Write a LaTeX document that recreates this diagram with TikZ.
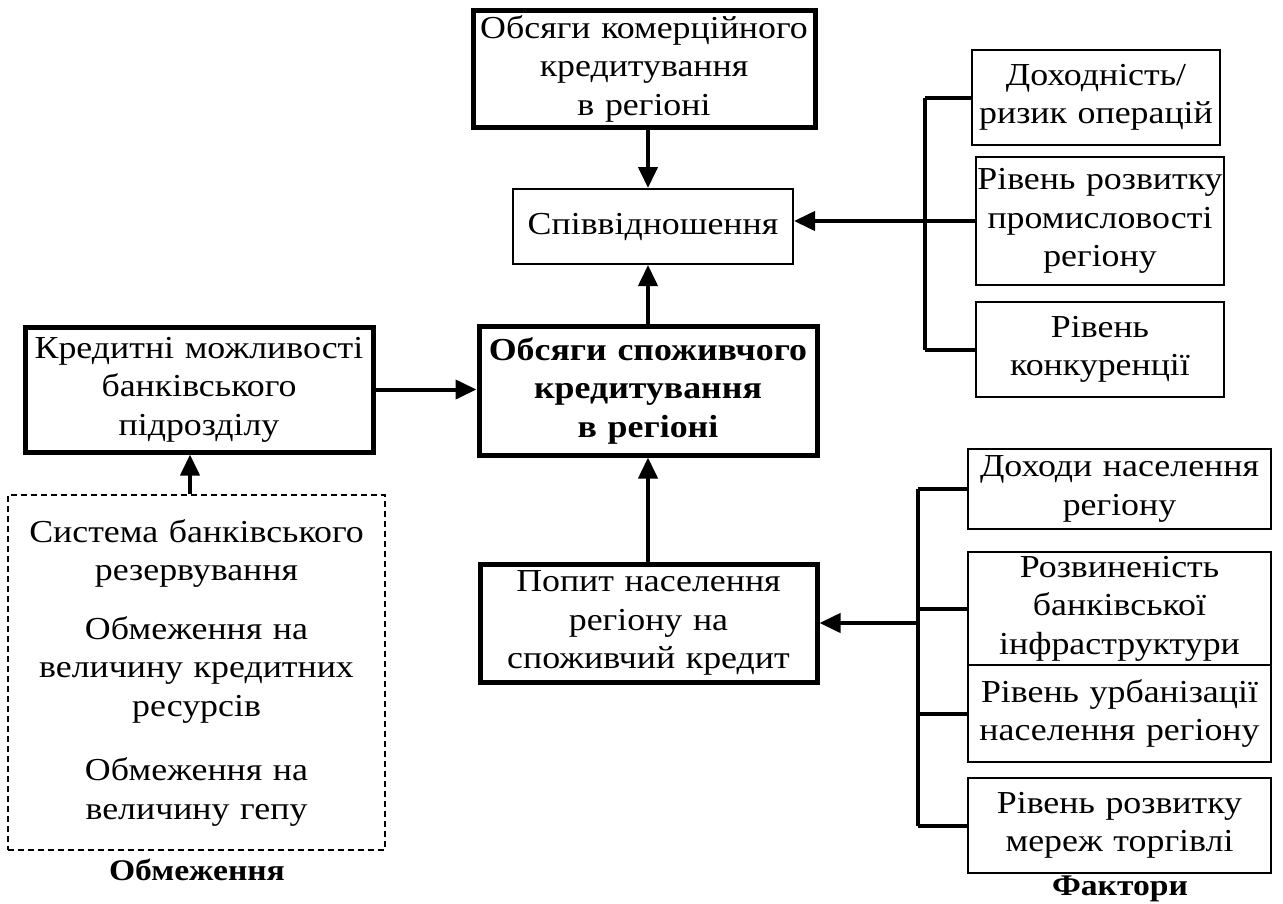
\documentclass[tikz,border=0pt]{standalone}
\usepackage{fontspec}
\setmainfont{Liberation Serif}[FakeStretch=1.12]
\usetikzlibrary{arrows.meta}
\begin{document}
\begin{tikzpicture}[x=1pt,y=-1pt,
  every node/.style={font=\fontsize{32}{38.5}\selectfont, align=center, inner sep=0pt},
  thickbox/.style={draw, line width=5pt},
  thinbox/.style={draw, line width=2pt},
  dashbox/.style={draw, line width=1.5pt, dash pattern=on 6pt off 4pt},
  conn/.style={line width=4pt},
  arr/.style={conn, -{Triangle[length=21pt,width=19pt]}},
  lbl/.style={font=\fontsize{30}{36}\selectfont\bfseries}
]
\useasboundingbox (0,0) rectangle (1283,903);
\fill[white] (0,0) rectangle (1283,903);

% central column
\node[thickbox, text width=342pt, minimum height=117pt] (komerc) at (644,68.5) {Обсяги комерційного\\кредитування\\в регіоні};
\node[thinbox, text width=280pt, minimum height=75pt] (spiv) at (653,226.5) {Співвідношення};
\node[thickbox, text width=338pt, minimum height=129pt, font=\fontsize{32}{38.5}\selectfont\bfseries] (main) at (648,390.5) {Обсяги споживчого\\кредитування\\в регіоні};
\node[thickbox, text width=337pt, minimum height=118pt] (popyt) at (648.5,623) {Попит населення\\регіону на\\споживчий кредит};

% left side
\node[thickbox, text width=348pt, minimum height=125pt] (kred) at (199,389.5) {Кредитні можливості\\банківського\\підрозділу};
\node[dashbox, text width=377pt, minimum height=355pt] (obmbox) at (196.5,672.5) {Система банківського\\резервування\\[20pt]Обмеження на\\величину кредитних\\ресурсів\\[26pt]Обмеження на\\величину гепу};
\node[lbl] (obm) at (197,870) {Обмеження};

% right upper factors
\node[thinbox, text width=248pt, minimum height=95pt] (dohidnist) at (1096,97.5) {Доходність/\\ризик операцій};
\node[thinbox, text width=248pt, minimum height=128pt] (rozvprom) at (1100,221) {Рівень розвитку\\промисловості\\регіону};
\node[thinbox, text width=248pt, minimum height=95pt] (konk) at (1100,349.5) {Рівень\\конкуренції};

% right lower factors
\node[thinbox, text width=303pt, minimum height=80pt] (dohody) at (1119.5,489) {Доходи населення\\регіону};
\node[thinbox, text width=303pt, minimum height=113pt] (rozvyn) at (1119.5,608.5) {Розвиненість\\банківської\\інфраструктури};
\node[thinbox, text width=303pt, minimum height=97pt] (urban) at (1119.5,713.5) {Рівень урбанізації\\населення регіону};
\node[thinbox, text width=303pt, minimum height=95pt] (merezh) at (1119.5,825.5) {Рівень розвитку\\мереж торгівлі};
\node[lbl] (fakt) at (1120,889) {Фактори};

% connectors in the centre
\draw[arr] (komerc.south -| main.north) -- (spiv.north -| main.north);
\draw[arr] (main.north) -- (spiv.south -| main.north);
\draw[arr] (popyt.north -| main.south) -- (main.south);
\draw[arr] (kred.east) -- (kred.east -| main.west);
\coordinate (dx) at (190,0);
\draw[arr] (obmbox.north -| dx) -- (kred.south -| dx);

% upper bus
\coordinate (b1) at (925,0);
\draw[conn] (b1 |- dohidnist) -- (b1 |- konk);
\draw[conn] (b1 |- dohidnist) -- (dohidnist.west);
\draw[conn] (b1 |- rozvprom) -- (rozvprom.west);
\draw[conn] (b1 |- konk) -- (konk.west);
\draw[arr] (b1 |- rozvprom) -- (spiv.east |- rozvprom);

% lower bus
\coordinate (b2) at (918,0);
\draw[conn] (b2 |- dohody) -- (b2 |- merezh);
\draw[conn] (b2 |- dohody) -- (dohody.west);
\draw[conn] (b2 |- rozvyn) -- (rozvyn.west);
\draw[conn] (b2 |- urban) -- (urban.west);
\draw[conn] (b2 |- merezh) -- (merezh.west);
\draw[arr] (b2 |- popyt) -- (popyt.east);
\end{tikzpicture}
\end{document}
